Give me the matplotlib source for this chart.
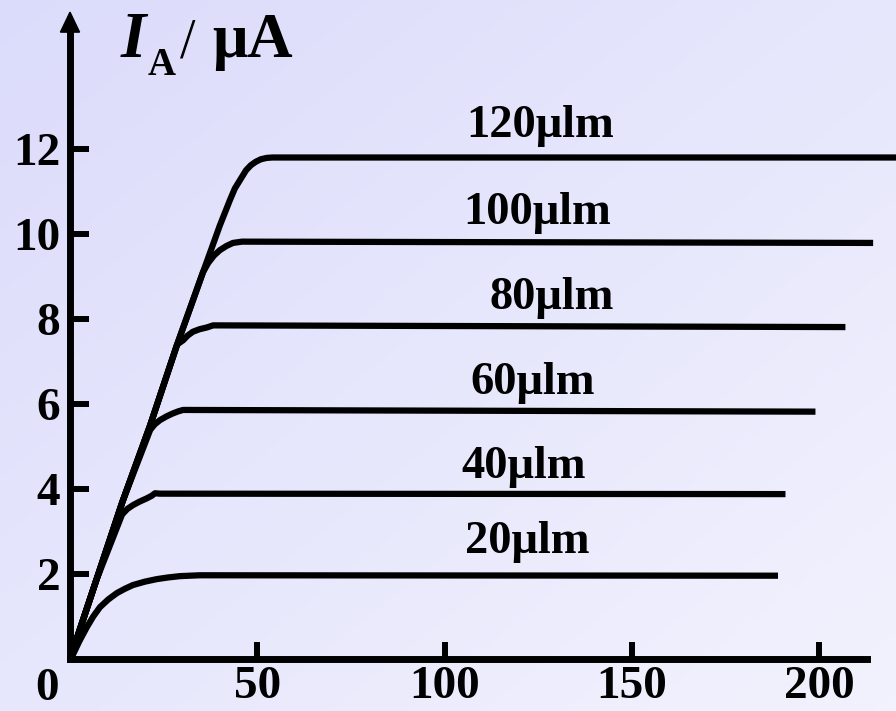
import matplotlib.pyplot as plt
import matplotlib.patches as patches
import numpy as np

plt.rcParams['font.family'] = ['Liberation Serif', 'DejaVu Serif']

# shared rising part (anode voltage, current)
env_x = [0, 7, 14, 21.4, 28.6, 35.5, 40, 42.7, 44, 45.6, 47, 48.3, 49.6, 51, 52.5, 54]
env_y = [0, 1.85, 3.7, 5.5, 7.4, 9.1, 10.2, 10.8, 11.07, 11.3, 11.5, 11.62, 11.7, 11.76, 11.79, 11.8]

# flux labels and the knee / saturation of each curve
flux = ['20μlm', '40μlm', '60μlm', '80μlm', '100μlm', '120μlm']
knee_x = [
    [0.5, 2.5, 4.5, 6.2, 8, 10.2, 12.5, 14.6, 16.8, 20, 23.2, 26.3, 29.4, 34.7],
    [13.9, 15.3, 16.8, 18.5, 20.5, 21.8, 22.7, 24],
    [21.4, 22.6, 24, 25.8, 27.5, 29, 30.2],
    [30.2, 31.4, 32.8, 34.6, 36.5, 38.2],
    [36.9, 38.4, 40, 41.8, 43.5, 45.9],
    [],
]
knee_y = [
    [0.05, 0.42, 0.75, 1.0, 1.22, 1.4, 1.55, 1.65, 1.74, 1.82, 1.88, 1.92, 1.95, 1.97],
    [3.4, 3.53, 3.62, 3.7, 3.78, 3.84, 3.9, 3.89],
    [5.39, 5.52, 5.62, 5.71, 5.78, 5.83, 5.86],
    [7.5, 7.61, 7.7, 7.76, 7.8, 7.85],
    [9.32, 9.49, 9.62, 9.72, 9.79, 9.82],
    [],
]
sat_level = [1.96, 3.88, 5.82, 7.81, 9.79, 11.8]
end_x = [189, 191, 199, 207, 214.4, 221]

# label positions (text centre x, baseline y)
label_x = [122, 121, 123.5, 128.7, 124.7, 125.5]
label_y = [2.49, 4.27, 6.24, 8.24, 10.24, 12.28]

xticks = [50, 100, 150, 200]
yticks = [2, 4, 6, 8, 10, 12]

W, H = 896, 711
fig = plt.figure(figsize=(W / 100, H / 100), dpi=100)

# background gradient
bg = fig.add_axes([0, 0, 1, 1])
gx, gy = np.meshgrid(np.linspace(0, 1, 200), np.linspace(0, 1, 200))
t = (gx + gy) / 2
c0 = np.array([0.86, 0.86, 0.985])
c1 = np.array([0.95, 0.95, 0.995])
img = c0[None, None, :] * (1 - t[..., None]) + c1[None, None, :] * t[..., None]
bg.imshow(img, extent=[0, 1, 0, 1], aspect='auto')
bg.axis('off')

ax = fig.add_axes([70 / W, 52 / H, (W - 70) / W, 650 / H])
ax.set_facecolor('none')
ax.set_xlim(0, 826 / 3.746)
ax.set_ylim(0, 650 / 42.5)

for i in range(len(flux)):
    if knee_x[i]:
        k0 = knee_x[i][0]
        xs = [x for x in env_x if x < k0] if i > 0 else []
        ys = env_y[:len(xs)]
        xs = [0] + xs[1:] if xs else [0]
        ys = [0] + ys[1:] if ys else [0]
    else:
        xs, ys = list(env_x), list(env_y)
    xs = xs + knee_x[i] + [end_x[i]]
    ys = ys + knee_y[i] + [sat_level[i]]
    ax.plot(xs, ys, color='black', lw=4.5, solid_joinstyle='round',
            solid_capstyle='butt', clip_on=False, zorder=3)
    ax.text(label_x[i], label_y[i], flux[i], ha='center', va='baseline',
            fontsize=33.5, fontweight='bold')

for s in ['top', 'right']:
    ax.spines[s].set_visible(False)
ax.spines['left'].set_bounds(0, 14.8)
ax.spines['bottom'].set_bounds(0, 212.8)
for s in ['left', 'bottom']:
    ax.spines[s].set_linewidth(5)
    ax.spines[s].set_capstyle('projecting')

# arrow head on the vertical axis
ax.add_patch(patches.Polygon([[-2.55, 14.75], [2.55, 14.75], [0, 15.22]],
                             closed=True, color='black', clip_on=False))

ax.set_xticks(xticks)
ax.set_yticks(yticks)
ax.set_xticklabels([str(v) for v in xticks], fontsize=34, fontweight='bold')
ax.set_yticklabels([str(v) for v in yticks], fontsize=34, fontweight='bold')
ax.tick_params(axis='x', direction='in', length=12, width=4.3, pad=5)
ax.tick_params(axis='y', direction='in', length=14, width=4.3, pad=7)

fig.text(47 / W, 1 - 700 / H, '0', ha='center', va='baseline',
         fontsize=34, fontweight='bold')

# axis title I_A / μA
fig.text(121 / W, 1 - 57 / H, 'I', ha='left', va='baseline',
         fontsize=47, fontweight='bold', fontstyle='italic')
fig.text(148 / W, 1 - 75 / H, 'A', ha='left', va='baseline',
         fontsize=28, fontweight='bold')
fig.text(180 / W, 1 - 57 / H, '/', ha='left', va='baseline',
         fontsize=40)
fig.text(212 / W, 1 - 57 / H, 'μA', ha='left', va='baseline',
         fontsize=45, fontweight='bold')

fig.savefig('out.png', dpi=100)
